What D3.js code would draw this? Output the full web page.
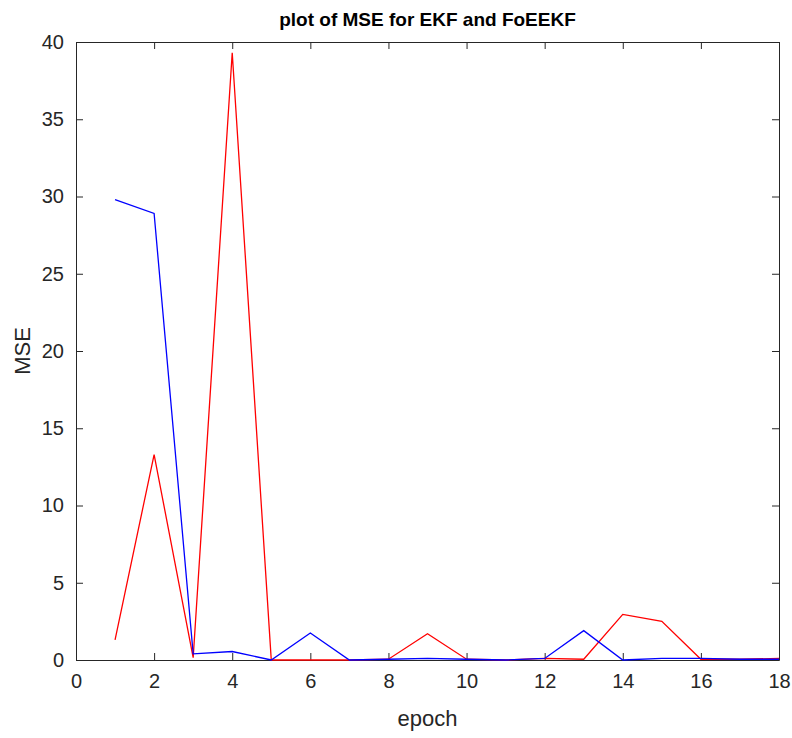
<!DOCTYPE html>
<html>
<head>
<meta charset="utf-8">
<script src="https://cdn.jsdelivr.net/npm/d3@7"></script>
<style>
  body { margin: 0; background: #fff; }
  text { font-family: "Liberation Sans Narrow", "Arial Narrow", "Liberation Sans", sans-serif; fill: #262626; }
</style>
</head>
<body>
<div id="chart"></div>
<script>
// data
var epochs = [1, 2, 3, 4, 5, 6, 7, 8, 9, 10, 11, 12, 13, 14, 15, 16, 17, 18];
var ekf    = [29.8, 28.9, 0.4, 0.55, 0.0, 1.75, 0.0, 0.05, 0.1, 0.05, 0.0, 0.1, 1.9, 0.0, 0.1, 0.1, 0.05, 0.05];
var foeekf = [1.3, 13.3, 0.15, 39.3, 0.0, 0.0, 0.0, 0.05, 1.7, 0.05, 0.0, 0.1, 0.05, 2.95, 2.5, 0.05, 0.05, 0.1];
var xTicks = [0, 2, 4, 6, 8, 10, 12, 14, 16, 18];
var yTicks = [0, 5, 10, 15, 20, 25, 30, 35, 40];

var margin = { top: 42, right: 13, bottom: 78, left: 76 },
width = 792 - margin.left - margin.right,
height = 738 - margin.top - margin.bottom;

var svg = d3.select("#chart")
.append("svg")
.attr("width", 792)
.attr("height", 738)
.append("g")
.attr("transform", "translate(" + margin.left + "," + margin.top + ")");

var x = d3.scaleLinear().domain([0, 18]).range([0, width]);
var y = d3.scaleLinear().domain([0, 40]).range([height, 0]);

// axes with inward ticks, MATLAB box style
var bottom = svg.append("g")
.attr("transform", "translate(0," + height + ")")
.call(d3.axisBottom(x).tickValues(xTicks).tickSizeInner(-7).tickSizeOuter(0).tickPadding(14));
var left = svg.append("g")
.call(d3.axisLeft(y).tickValues(yTicks).tickSizeInner(-7).tickSizeOuter(0).tickPadding(12));
svg.append("g")
.call(d3.axisTop(x).tickValues(xTicks).tickSizeInner(-7).tickSizeOuter(0).tickFormat(""));
svg.append("g")
.attr("transform", "translate(" + width + ",0)")
.call(d3.axisRight(y).tickValues(yTicks).tickSizeInner(-7).tickSizeOuter(0).tickFormat(""));

svg.selectAll(".domain").attr("stroke", "#262626");
svg.selectAll(".tick line").attr("stroke", "#262626");
svg.selectAll(".tick text").style("font-size", "20px");

// lines
var line = d3.line()
.x(function (d, i) { return x(epochs[i]); })
.y(function (d) { return y(d); });

svg.append("path")
.datum(foeekf)
.attr("fill", "none")
.attr("stroke", "#ff0000")
.attr("stroke-width", 1.3)
.attr("d", line);

svg.append("path")
.datum(ekf)
.attr("fill", "none")
.attr("stroke", "#0000ff")
.attr("stroke-width", 1.3)
.attr("d", line);

// labels
svg.append("text")
.attr("x", width / 2)
.attr("y", -16)
.attr("text-anchor", "middle")
.style("font-size", "19px")
.style("font-weight", "bold")
.style("fill", "#000")
.text("plot of MSE for EKF and FoEEKF");

svg.append("text")
.attr("x", width / 2)
.attr("y", height + 66)
.attr("text-anchor", "middle")
.style("font-size", "22px")
.text("epoch");

svg.append("text")
.attr("transform", "translate(-46," + (height / 2) + ") rotate(-90)")
.attr("text-anchor", "middle")
.style("font-size", "22px")
.text("MSE");
</script>
</body>
</html>
